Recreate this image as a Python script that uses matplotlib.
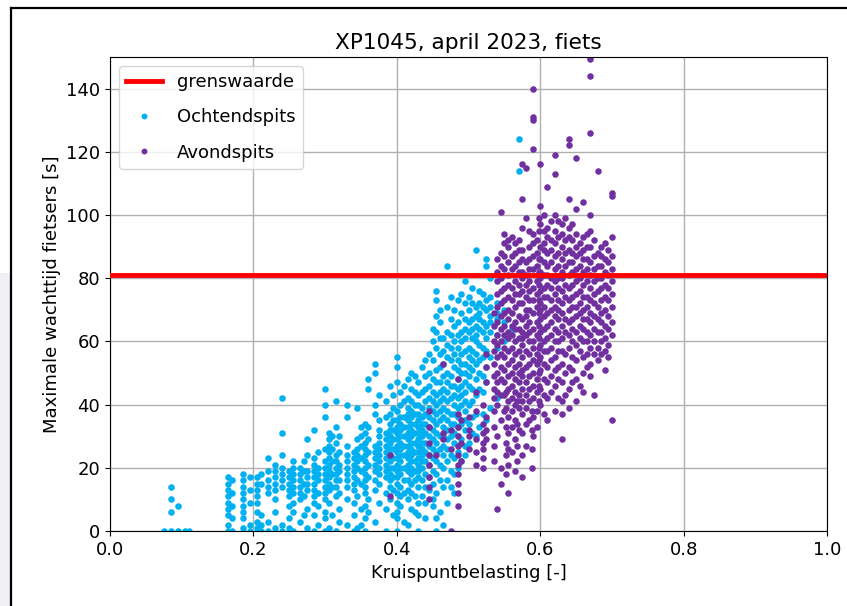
import matplotlib
matplotlib.use("Agg")
import matplotlib.pyplot as plt
from matplotlib.lines import Line2D
from matplotlib.patches import Rectangle

title = "XP1045, april 2023, fiets"
xlabel = "Kruispuntbelasting [-]"
ylabel = "Maximale wachttijd fietsers [s]"
grenswaarde = 81
label_grens = "grenswaarde"
label_ochtend = "Ochtendspits"
label_avond = "Avondspits"

# Ochtendspits: x-level -> y values
ochtend_x_levels = [0.075, 0.085, 0.095, 0.105, 0.11, 0.165, 0.17, 0.185, 0.195, 0.205,
                    0.21, 0.22, 0.23, 0.24, 0.25, 0.255, 0.265, 0.275, 0.285, 0.29,
                    0.30, 0.305, 0.315, 0.32, 0.33, 0.34, 0.345, 0.355, 0.36, 0.37,
                    0.375, 0.385, 0.39, 0.40, 0.405, 0.415, 0.42, 0.43, 0.435, 0.445,
                    0.45, 0.455, 0.465, 0.47, 0.48, 0.485, 0.495, 0.50, 0.51, 0.515,
                    0.525, 0.53, 0.54, 0.55, 0.56, 0.57,
                    0.395, 0.41, 0.425, 0.44, 0.46, 0.475, 0.49, 0.505, 0.52, 0.35,
                    0.31, 0.27]
ochtend_y_levels = [
    [0], [0, 6, 10, 14], [0, 8], [0], [0],
    [0, 2, 5, 7, 9, 11, 13, 15, 17], [0, 4, 8, 12, 16],
    [1, 4, 6, 8, 10, 12, 14, 16, 18], [0, 2, 9, 13, 17],
    [1, 3, 6, 9, 11, 13, 15, 17], [0, 2, 5, 15, 18],
    [0, 3, 12, 14, 16, 19, 23], [1, 6, 10, 13, 15, 17, 19, 21],
    [0, 2, 14, 16, 18, 20, 24, 31, 42], [1, 4, 8, 11, 13, 15, 17, 19],
    [0, 6, 9, 12, 14, 16, 18, 20, 22], [3, 10, 12, 14, 16, 18, 20],
    [1, 7, 13, 15, 17, 19, 24, 29], [0, 5, 9, 11, 13, 15, 17, 19, 21, 23, 32],
    [2, 8, 12, 16, 18, 20, 25],
    [0, 4, 6, 10, 12, 14, 16, 18, 20, 22, 26, 36, 40, 45],
    [1, 9, 13, 15, 17, 19, 21, 23, 25, 27, 29, 31],
    [0, 11, 14, 16, 18, 20, 22, 24, 28, 33, 41],
    [3, 7, 12, 16, 19, 21, 25, 30],
    [2, 10, 14, 16, 18, 20, 22, 24, 27, 36, 40],
    [0, 5, 9, 13, 15, 17, 19, 21, 23, 25],
    [1, 11, 16, 20, 22, 24, 26, 29, 39],
    [0, 4, 8, 12, 14, 16, 18, 20, 22, 24, 26, 28, 31, 34],
    [6, 10, 17, 21, 25, 29, 33, 45, 48],
    [3, 13, 16, 19, 21, 23, 25, 27, 37, 40, 50, 53],
    [9, 15, 18, 20, 22, 24, 26, 28, 30, 32, 35, 43],
    [0, 7, 12, 17, 19, 21, 23, 25, 27, 29, 31, 36, 41],
    [10, 14, 16, 18, 20, 22, 24, 26, 28, 30, 32, 34, 37, 46],
    [0, 4, 6, 9, 12, 15, 17, 19, 21, 23, 25, 27, 29, 31, 33, 35, 38, 47, 52, 55],
    [8, 11, 14, 18, 20, 22, 24, 26, 28, 30, 32, 34, 36, 40, 44],
    [2, 10, 13, 16, 19, 21, 23, 25, 27, 29, 31, 33, 35, 37, 39, 42, 48],
    [7, 12, 15, 18, 20, 22, 24, 26, 28, 30, 32, 34, 36, 38, 41, 45, 50],
    [0, 5, 9, 14, 17, 19, 21, 23, 25, 27, 29, 31, 33, 35, 37, 40, 43, 47],
    [11, 16, 20, 22, 24, 26, 28, 30, 32, 34, 36, 39, 44, 52],
    [13, 17, 21, 24, 27, 30, 33, 36, 39, 42, 46, 50, 56],
    [8, 10, 15, 19, 23, 26, 29, 32, 35, 38, 41, 44, 48, 54, 60, 64],
    [0, 4, 12, 18, 22, 25, 28, 31, 34, 37, 40, 43, 47, 51, 58, 63, 68, 73, 76],
    [2, 14, 20, 24, 27, 30, 33, 36, 39, 42, 45, 49, 53, 57, 61],
    [9, 16, 22, 26, 29, 32, 35, 38, 41, 44, 47, 50, 55, 59, 63, 71, 84],
    [12, 18, 23, 28, 31, 34, 37, 40, 43, 46, 52, 56, 60, 65, 70],
    [20, 25, 30, 33, 36, 39, 42, 45, 48, 51, 54, 58, 62, 66, 73],
    [24, 27, 32, 35, 38, 41, 44, 47, 50, 53, 57, 61, 64, 67, 72, 79],
    [28, 34, 40, 46, 49, 52, 55, 58, 63, 66, 70, 74],
    [30, 37, 43, 48, 53, 56, 60, 62, 65, 68, 71, 89],
    [33, 45, 50, 54, 59, 64, 67, 69, 72, 76],
    [35, 47, 52, 57, 61, 65, 70, 73, 84, 86],
    [39, 55, 63, 66, 68, 71, 74, 80],
    [42, 58, 62, 67, 69, 72],
    [60, 66, 70], [64], [114, 124],
    [5, 13, 17, 20, 23, 26, 29, 32, 35, 39, 43],
    [3, 12, 16, 20, 24, 27, 30, 33, 36, 41, 46],
    [6, 11, 16, 19, 22, 25, 28, 31, 34, 37, 40, 44, 49],
    [4, 9, 14, 18, 22, 25, 28, 31, 34, 37, 41, 45, 49, 54],
    [6, 16, 21, 26, 30, 35, 38, 41, 44, 47, 52, 56, 61, 66, 70],
    [14, 19, 24, 30, 34, 37, 42, 46, 49, 54, 58, 62, 67, 74],
    [22, 29, 34, 40, 43, 46, 50, 53, 56, 60, 63, 69, 75],
    [31, 36, 41, 45, 51, 54, 57, 61, 64, 67, 72, 77],
    [37, 44, 49, 55, 58, 63, 66, 71, 75],
    [2, 7, 15, 19, 23, 27, 30, 33],
    [5, 14, 18, 22, 26, 30],
    [5, 11, 15, 19, 22],
]

# Avondspits: x-level -> y values
avond_x_levels = [0.39, 0.445, 0.455, 0.465, 0.475, 0.485, 0.49, 0.50, 0.51, 0.52,
                  0.525, 0.535, 0.54, 0.545, 0.555, 0.56, 0.565, 0.575, 0.58, 0.59,
                  0.595, 0.60, 0.61, 0.615, 0.62, 0.63, 0.635, 0.64, 0.65, 0.655,
                  0.66, 0.67, 0.675, 0.68, 0.69, 0.695, 0.70,
                  0.55, 0.57, 0.585, 0.605, 0.625, 0.645, 0.665, 0.685, 0.598,
                  0.552, 0.568, 0.588]
avond_y_levels = [
    [11, 24],
    [10, 14, 17, 21, 24, 28, 33, 38],
    [24],
    [29, 31, 53],
    [0, 26, 32],
    [8, 12, 15, 18, 21, 24, 27, 30, 33, 37, 48],
    [22, 28, 35],
    [26, 30, 32, 36],
    [21, 25, 29, 38, 44],
    [20, 23, 26, 28, 31, 34, 40],
    [29, 32, 36, 47, 52, 56],
    [22, 27, 33, 38, 42, 45, 49, 53, 57, 60, 65, 69],
    [7, 30, 40, 44, 47, 50, 55, 59, 62, 66, 71, 75, 79, 82, 86],
    [15, 20, 35, 43, 48, 52, 56, 60, 64, 68, 72, 76, 80, 84, 88, 101],
    [12, 21, 26, 31, 36, 41, 45, 49, 53, 57, 61, 63, 67, 70, 74, 78, 81, 85, 90, 92],
    [25, 33, 38, 42, 46, 50, 54, 58, 62, 65, 69, 73, 77, 83, 87, 93],
    [19, 29, 35, 40, 44, 48, 52, 56, 60, 64, 66, 71, 75, 79, 84, 88, 91],
    [17, 24, 31, 37, 41, 45, 49, 51, 55, 59, 61, 63, 67, 72, 76, 80, 82, 86, 89, 96, 105, 116],
    [27, 34, 39, 43, 47, 52, 57, 62, 65, 68, 70, 74, 78, 81, 85, 99, 115],
    [30, 36, 42, 46, 50, 54, 58, 60, 64, 69, 73, 77, 83, 87, 91, 94, 121, 130, 131, 140],
    [33, 38, 44, 48, 53, 56, 62, 66, 71, 75, 79, 84, 88, 92],
    [40, 45, 51, 55, 59, 63, 67, 70, 72, 76, 80, 82, 86, 90, 97, 103, 116],
    [35, 42, 47, 52, 57, 61, 65, 69, 74, 78, 81, 84, 88, 93, 96, 109],
    [44, 49, 54, 58, 62, 66, 70, 73, 77, 80, 85, 89, 92, 98],
    [38, 46, 51, 55, 60, 64, 68, 71, 75, 79, 83, 87, 91, 95, 100, 113, 119],
    [29, 37, 41, 47, 53, 57, 61, 65, 69, 72, 76, 80, 82, 86, 90, 94, 97],
    [43, 50, 56, 63, 67, 74, 78, 84, 88, 92, 99],
    [39, 45, 52, 58, 62, 66, 70, 73, 77, 81, 85, 89, 93, 96, 105, 122, 124],
    [41, 48, 54, 59, 63, 68, 71, 75, 79, 83, 87, 90, 94, 102, 118],
    [46, 57, 61, 65, 69, 72, 76, 80, 84, 88, 91],
    [44, 50, 55, 60, 64, 67, 70, 74, 78, 82, 86, 89, 93, 104],
    [49, 53, 58, 62, 66, 69, 73, 77, 81, 85, 90, 95, 100, 126, 144, 149.5],
    [43, 56, 60, 64, 68, 72, 75, 79, 83, 87, 92],
    [54, 58, 63, 67, 71, 76, 80, 84, 88, 114],
    [51, 57, 61, 65, 70, 74, 78, 82, 86, 91],
    [55, 59, 64, 68, 73, 77, 81, 85, 89],
    [35, 62, 66, 71, 75, 79, 83, 87, 93, 106, 107],
    [38, 43, 47, 51, 55, 58, 62, 65, 69, 73, 77, 83, 87, 91, 94],
    [32, 39, 43, 47, 50, 53, 57, 61, 64, 68, 72, 75, 78, 82, 85, 89, 92],
    [35, 41, 45, 49, 53, 56, 60, 63, 66, 70, 73, 76, 79, 83, 86, 90, 95],
    [37, 43, 48, 53, 57, 60, 64, 68, 71, 74, 77, 81, 85, 89, 91, 95, 100],
    [42, 48, 52, 57, 60, 63, 67, 70, 73, 77, 80, 84, 88, 93, 98],
    [47, 51, 55, 60, 64, 67, 71, 74, 78, 82, 85, 88, 92, 97],
    [52, 56, 60, 63, 67, 71, 74, 79, 83, 86, 90, 94],
    [56, 60, 63, 66, 69, 73, 77, 80, 84, 87, 90],
    [41, 46, 50, 54, 58, 61, 65, 69, 73, 78, 82, 86, 95, 99],
    [18, 24, 28, 33, 39, 44],
    [22, 27, 34, 41],
    [20, 26, 32, 38],
]

xticks = [0.0, 0.2, 0.4, 0.6, 0.8, 1.0]
yticks = [0, 20, 40, 60, 80, 100, 120, 140]

ochtend_x = [x for x, ys in zip(ochtend_x_levels, ochtend_y_levels) for _ in ys]
ochtend_y = [y for ys in ochtend_y_levels for y in ys]
avond_x = [x for x, ys in zip(avond_x_levels, avond_y_levels) for _ in ys]
avond_y = [y for ys in avond_y_levels for y in ys]

plt.rcParams['font.family'] = ['DejaVu Sans']
plt.rcParams['font.size'] = 13

fig = plt.figure(figsize=(8.47, 6.06), dpi=100)
ax = fig.add_axes([110 / 847, 1 - 531 / 606, 717 / 847, 474 / 606])

ax.axhline(grenswaarde, color='#ff0000', lw=3.5, label=label_grens, zorder=3)
ax.plot(ochtend_x, ochtend_y, 'o', ms=4.7, mew=0, color='#00b0f0',
        label=label_ochtend, zorder=2)
ax.plot(avond_x, avond_y, 'o', ms=4.7, mew=0, color='#7030a0',
        label=label_avond, zorder=2)

ax.set_xlim(0, 1.0)
ax.set_ylim(0, 150)
ax.set_xticks(xticks)
ax.set_yticks(yticks)
ax.grid(True, color='#b0b0b0', lw=1.0)
ax.set_axisbelow(True)
ax.set_title(title, fontsize=15.6)
ax.set_xlabel(xlabel)
ax.set_ylabel(ylabel)
ax.legend(loc='upper left', labelspacing=0.95, markerscale=0.9)

# screenshot frame
fig.add_artist(Rectangle((0, 0), 10 / 847, 1 - 273 / 606, transform=fig.transFigure,
                         color='#f0f0f5', lw=0, zorder=0))
fig.add_artist(Line2D([11 / 847, 11 / 847], [0, 1 - 8 / 606], transform=fig.transFigure,
                      color='black', lw=1.6))
fig.add_artist(Line2D([11 / 847, 1], [1 - 8 / 606, 1 - 8 / 606], transform=fig.transFigure,
                      color='black', lw=1.6))

fig.savefig('out.png', dpi=100)
